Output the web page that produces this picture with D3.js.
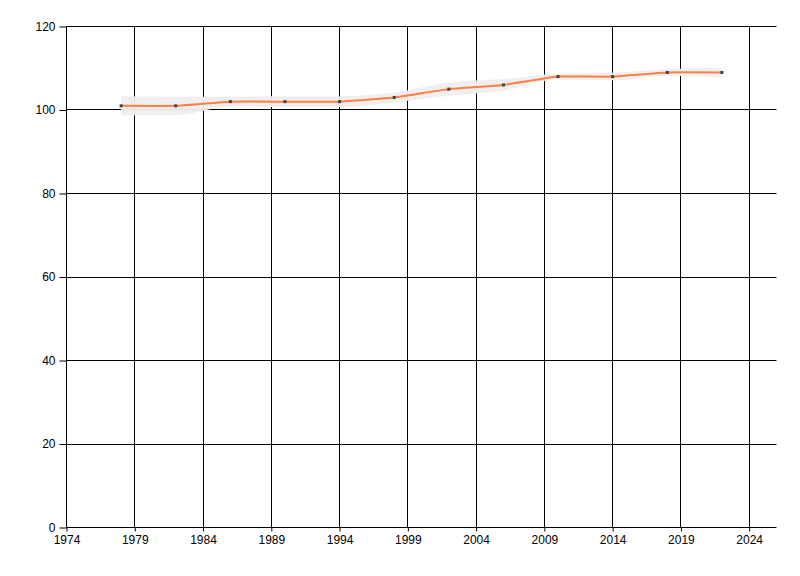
<!DOCTYPE html>
<html>
<head>
<meta charset="utf-8">
<script src="https://cdn.jsdelivr.net/npm/d3@7"></script>
<style>
  body { margin: 0; background: #fff; }
  text { font-family: "Liberation Sans", Arial, sans-serif; font-size: 12px; fill: #000; }
</style>
</head>
<body>
<div id="chart"></div>
<script>
// Data
var years = [1978, 1982, 1986, 1990, 1994, 1998, 2002, 2006, 2010, 2014, 2018, 2022];
var values = [101, 101, 102, 102, 102, 103, 105, 106, 108, 108, 109, 109];
var bandHigh = [103.3, 103.2, 103.2, 103.3, 103.3, 104.2, 106.6, 107.4, 108.7, 108.9, 109.8, 110.1];
var bandLow = [98.7, 98.8, 100.8, 100.7, 100.7, 101.8, 103.4, 104.6, 107.3, 107.1, 108.2, 107.9];
var xTicks = [1974, 1979, 1984, 1989, 1994, 1999, 2004, 2009, 2014, 2019, 2024];
var yTicks = [0, 20, 40, 60, 80, 100, 120];

var svgWidth = 800;
var svgHeight = 576;

var margin = { top: 26, right: 24, bottom: 49, left: 66 };
var width = svgWidth - margin.left - margin.right;
var height = svgHeight - margin.top - margin.bottom;

var svg = d3.select("#chart")
  .append("svg")
  .attr("width", svgWidth)
  .attr("height", svgHeight);

var chartGroup = svg.append("g")
  .attr("transform", `translate(${margin.left + 0.5}, ${margin.top + 0.5})`);

var xScale = d3.scaleLinear().domain([1974, 2026]).range([0, width]);
var yScale = d3.scaleLinear().domain([0, 120]).range([height, 0]);

var rows = years.map((y, i) => ({ year: y, value: values[i], hi: bandHigh[i], lo: bandLow[i] }));

// Grid lines
chartGroup.selectAll(".vgrid")
  .data(xTicks)
  .enter()
  .append("line")
  .attr("x1", d => Math.round(xScale(d)))
  .attr("x2", d => Math.round(xScale(d)))
  .attr("y1", 0)
  .attr("y2", height)
  .attr("stroke", "#000");

chartGroup.selectAll(".hgrid")
  .data(yTicks)
  .enter()
  .append("line")
  .attr("x1", 0)
  .attr("x2", width)
  .attr("y1", d => Math.round(yScale(d)))
  .attr("y2", d => Math.round(yScale(d)))
  .attr("stroke", "#000");

// Axes (ticks and labels only)
var bottomAxis = d3.axisBottom(xScale)
  .tickValues(xTicks)
  .tickFormat(d3.format("d"))
  .tickSizeInner(4)
  .tickSizeOuter(0)
  .tickPadding(4);

var leftAxis = d3.axisLeft(yScale)
  .tickValues(yTicks)
  .tickSizeInner(7)
  .tickSizeOuter(0)
  .tickPadding(4);

var xAxis = chartGroup.append("g")
  .attr("transform", `translate(0, ${height})`)
  .call(bottomAxis);

var yAxis = chartGroup.append("g")
  .call(leftAxis);

[xAxis, yAxis].forEach(function(ax) {
  ax.select(".domain").remove();
  ax.selectAll(".tick line").attr("stroke", "#000");
  ax.selectAll(".tick text")
    .attr("fill", "#000")
    .style("font-family", "'Liberation Sans', Arial, sans-serif")
    .style("font-size", "12px");
});

// Confidence band
var band = d3.area()
  .x(d => xScale(d.year))
  .y0(d => yScale(d.lo))
  .y1(d => yScale(d.hi))
  .curve(d3.curveMonotoneX);

chartGroup.append("path")
  .datum(rows)
  .attr("d", band)
  .attr("fill", "#eeeeee")
  .attr("opacity", 0.95);

// Main line
var line = d3.line()
  .x(d => xScale(d.year))
  .y(d => yScale(d.value))
  .curve(d3.curveCardinal.tension(0.7));

chartGroup.append("path")
  .datum(rows)
  .attr("d", line)
  .attr("fill", "none")
  .attr("stroke", "#ff7f3f")
  .attr("stroke-width", 2);

// Point markers
chartGroup.selectAll(".pt")
  .data(rows)
  .enter()
  .append("rect")
  .attr("x", d => xScale(d.year) - 1.5)
  .attr("y", d => yScale(d.value) - 1.5)
  .attr("width", 3)
  .attr("height", 3)
  .attr("fill", "#404040");
</script>
</body>
</html>
